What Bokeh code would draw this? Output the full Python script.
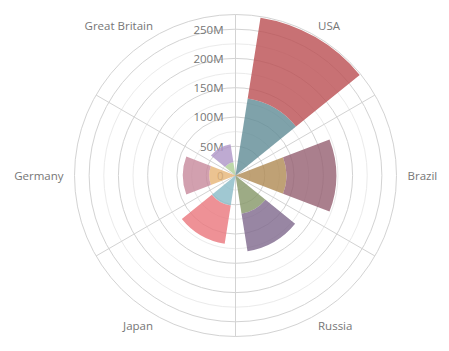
import math
from bokeh.plotting import figure
from bokeh.models import Range1d, ColumnDataSource
from bokeh.core.properties import value
from bokeh.embed import file_html
from bokeh.resources import INLINE

# ---- data (millions) ----
categories = ["USA", "Brazil", "Russia", "Japan", "Germany", "Great Britain"]
inner_values = [133, 87, 66, 52, 45, 23]
outer_values = [140, 85, 65, 66, 45, 31]   # stacked on top of inner
inner_colors = ["#5f8b95", "#af8a53", "#859666", "#88bac7", "#e6b476", "#aecd95"]
outer_colors = ["#ba4d51", "#955f71", "#7e688c", "#ea757c", "#c7889b", "#ae95c7"]
tick_values = [0, 50, 100, 150, 200, 250]
tick_labels = ["0", "50M", "100M", "150M", "200M", "250M"]
minor_values = [25, 75, 125, 175, 225]
axis_max = 275

# ---- layout ----
W, H = 449, 351
CX, CY = 235, 175        # centre in pixels (from left / top)
R_PX = 161               # outer radius in pixels
k = R_PX / axis_max      # px per data unit

p = figure(width=W, height=H, output_backend="svg", toolbar_location=None,
           x_range=Range1d(-CX / k, (W - CX) / k),
           y_range=Range1d(-(H - CY) / k, CY / k),
           min_border=0, min_border_left=0, min_border_right=0,
           min_border_top=0, min_border_bottom=0)
p.axis.visible = False
p.grid.visible = False
p.outline_line_color = None
p.background_fill_color = "white"
p.border_fill_color = "white"

n = len(categories)
step = 360 / n

# grid circles
p.circle(x=[0] * len(minor_values), y=[0] * len(minor_values), radius=minor_values,
         fill_color=None, line_color="#ebebeb", line_width=1)
major = [v for v in tick_values if v > 0] + [axis_max]
p.circle(x=[0] * len(major), y=[0] * len(major), radius=major,
         fill_color=None, line_color="#d3d3d3", line_width=1)

# spokes
xs0, ys0, xs1, ys1 = [], [], [], []
for i in range(n):
    a = math.radians(90 - i * step)
    xs0.append(0); ys0.append(0)
    xs1.append(axis_max * math.cos(a)); ys1.append(axis_max * math.sin(a))
p.segment(x0=xs0, y0=ys0, x1=xs1, y1=ys1, line_color="#d3d3d3", line_width=1)

# value axis labels (under the bars)
p.text(x=[0] * len(tick_values), y=tick_values, text=tick_labels,
       x_offset=-12, text_align="right", text_baseline="middle",
       text_font=value("Open Sans"), text_font_size="11.5px", text_color="#767676")

# bars
half = step * 0.35
starts, ends = [], []
for i in range(n):
    phi = step / 2 + i * step
    starts.append(math.radians(90 - phi - half))
    ends.append(math.radians(90 - phi + half))
totals = [a + b for a, b in zip(inner_values, outer_values)]
p.wedge(x=[0] * n, y=[0] * n, radius=inner_values, start_angle=starts, end_angle=ends,
        fill_color=inner_colors, fill_alpha=0.8, line_color=None)
p.annular_wedge(x=[0] * n, y=[0] * n, inner_radius=inner_values, outer_radius=totals,
                start_angle=starts, end_angle=ends,
                fill_color=outer_colors, fill_alpha=0.8, line_color=None)

# category labels
lx, ly, al, bl = [], [], [], []
for i in range(n):
    phi = math.radians(step / 2 + i * step)
    s, c = math.sin(phi), math.cos(phi)
    gap = 11 if abs(c) < 0.1 else 4
    r = axis_max + gap / k
    lx.append(r * s); ly.append(r * c)
    al.append("left" if s > 0.1 else ("right" if s < -0.1 else "center"))
    bl.append("bottom" if c > 0.1 else ("top" if c < -0.1 else "middle"))
src = ColumnDataSource(dict(x=lx, y=ly, t=categories, a=al, b=bl))
p.text(x="x", y="y", text="t", text_align="a", text_baseline="b", source=src,
       text_font=value("Open Sans"), text_font_size="11.5px", text_color="#767676")

open("out.html", "w").write(file_html(p, INLINE))
